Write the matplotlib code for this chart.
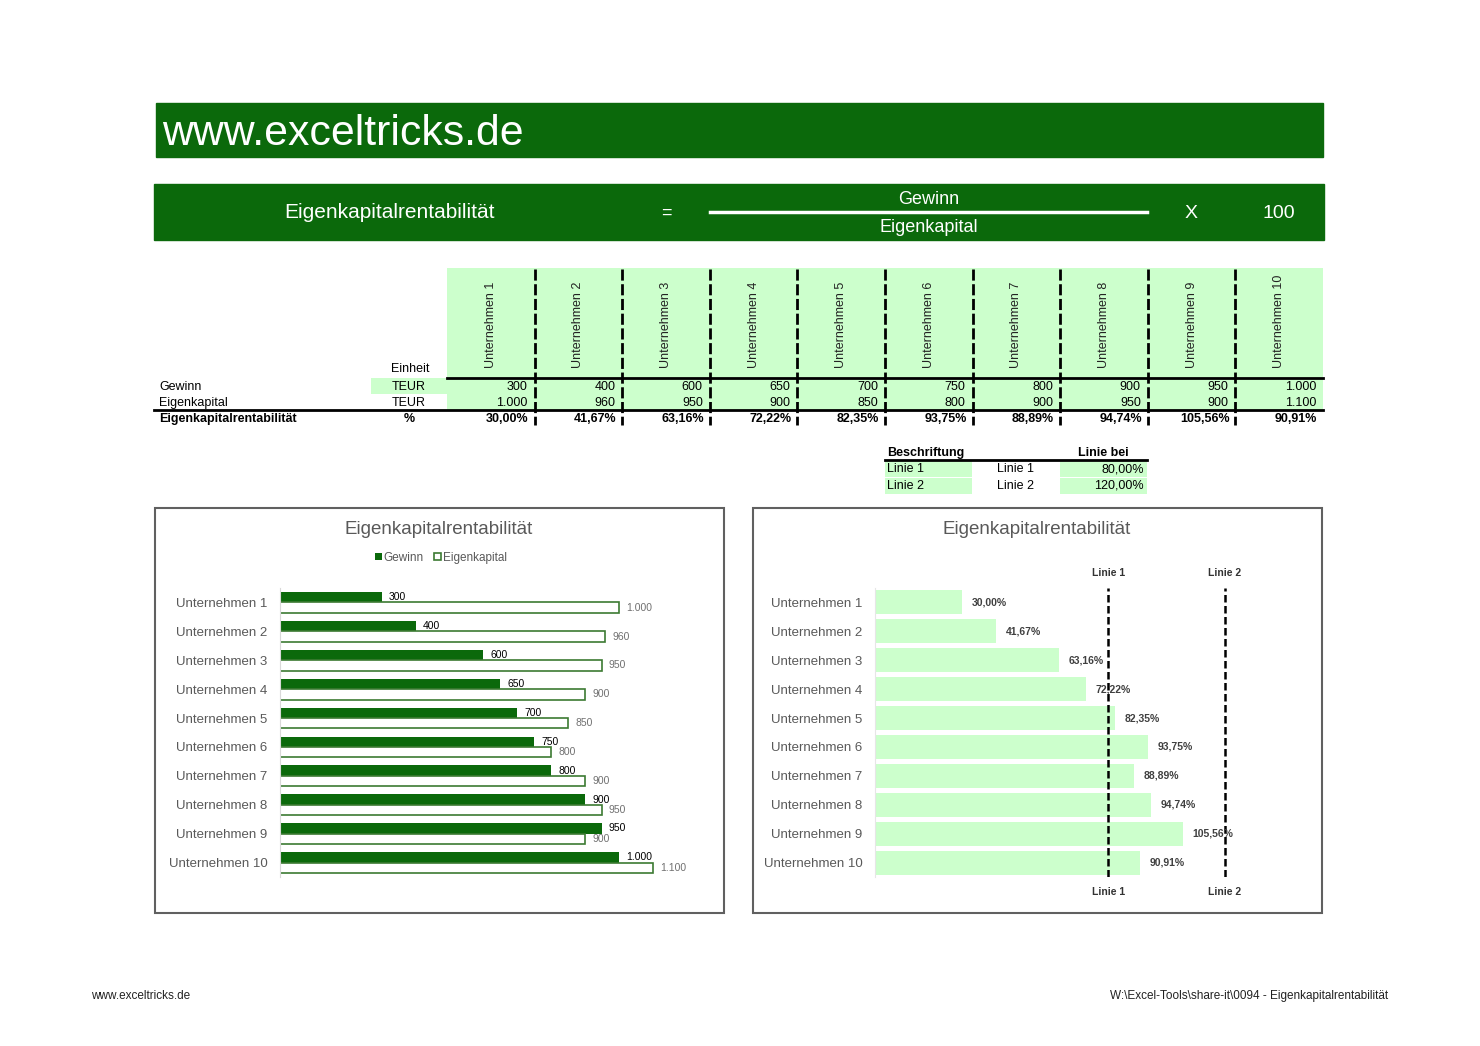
import numpy as np
import matplotlib
matplotlib.use("Agg")
import matplotlib.pyplot as plt
from matplotlib.patches import Rectangle
from matplotlib.transforms import blended_transform_factory

plt.rcParams['font.family'] = ['Liberation Sans', 'DejaVu Sans']

# --- data ---
companies = [f"Unternehmen {i}" for i in range(1, 11)]
gewinn = [300, 400, 600, 650, 700, 750, 800, 900, 950, 1000]
eigenkapital = [1000, 960, 950, 900, 850, 800, 900, 950, 900, 1100]
line_labels = ["Linie 1", "Linie 2"]
line_values = [80.0, 120.0]

rentabilitaet = [g / e * 100 for g, e in zip(gewinn, eigenkapital)]

DARK = '#0B690B'
LIGHT = '#CCFFCC'
GRAY = '#595959'
W, H = 1480, 1046


def de_int(v):
    return f"{v:,}".replace(",", ".")


def de_pct(v):
    return f"{v:.2f}".replace(".", ",") + "%"


def fig_rect(x0, y0, x1, y1):
    return [x0 / W, 1 - y1 / H, (x1 - x0) / W, (y1 - y0) / H]


fig = plt.figure(figsize=(W / 100, H / 100), dpi=100)
sheet = fig.add_axes([0, 0, 1, 1])
sheet.set_xlim(0, W)
sheet.set_ylim(H, 0)
sheet.axis('off')

# banners
sheet.add_patch(Rectangle((156, 103), 1167, 54, color=DARK))
sheet.text(162, 129.5, "www.exceltricks.de", color='white', fontsize=30.8, va='center_baseline', ha='left')

sheet.add_patch(Rectangle((154, 184), 1170, 56, color=DARK))
sheet.text(390, 213, "Eigenkapitalrentabilität", color='white', fontsize=15, va='center', ha='center')
sheet.text(666, 213, "=", color='white', fontsize=13, va='center', ha='center')
sheet.plot([710, 1147], [212, 212], color='white', lw=2.5)
sheet.text(929, 200, "Gewinn", color='white', fontsize=13, va='center', ha='center')
sheet.text(929, 227, "Eigenkapital", color='white', fontsize=13, va='center', ha='center')
sheet.text(1191, 213, "X", color='white', fontsize=14, va='center', ha='center')
sheet.text(1279, 213, "100", color='white', fontsize=14, va='center', ha='center')

# table
col_left, col_w = 447, 87.6
n = len(companies)
table_right = col_left + n * col_w
sheet.add_patch(Rectangle((col_left, 268), n * col_w, 142, color=LIGHT, lw=0))
sheet.add_patch(Rectangle((371, 378), 76, 16, color=LIGHT, lw=0))
sheet.plot([col_left, table_right], [377.5, 377.5], color='black', lw=2)
sheet.plot([154, table_right], [410, 410], color='black', lw=2)

r1, r2, r3 = 387, 403, 419
for i, name in enumerate(companies):
    cx = col_left + (i + 0.5) * col_w
    rx = col_left + (i + 1) * col_w - 7
    sheet.text(cx, 368, name, rotation=90, fontsize=9, ha='center', va='bottom', color='#222222')
    sheet.text(rx, r1, de_int(gewinn[i]), fontsize=9, ha='right', va='center')
    sheet.text(rx, r2, de_int(eigenkapital[i]), fontsize=9, ha='right', va='center')
    sheet.text(rx + 1, r3, de_pct(rentabilitaet[i]), fontsize=9, ha='right', va='center', fontweight='bold')
    if i < n - 1:
        bx = col_left + (i + 1) * col_w
        sheet.plot([bx, bx], [269, 425], color='black', lw=2, linestyle=(0, (4, 1.3)))

sheet.text(410, 369, "Einheit", fontsize=9, ha='center', va='center')
sheet.text(159, r1, "Gewinn", fontsize=9, ha='left', va='center')
sheet.text(159, r2, "Eigenkapital", fontsize=9, ha='left', va='center')
sheet.text(159, r3, "Eigenkapitalrentabilität", fontsize=9, ha='left', va='center', fontweight='bold')
sheet.text(409, r1, "TEUR", fontsize=9, ha='center', va='center')
sheet.text(409, r2, "TEUR", fontsize=9, ha='center', va='center')
sheet.text(409, r3, "%", fontsize=9, ha='center', va='center', fontweight='bold')

# small line table
sheet.text(887, 453, "Beschriftung", fontsize=9, fontweight='bold', ha='left', va='center')
sheet.text(1078, 453, "Linie bei", fontsize=9, fontweight='bold', ha='left', va='center')
sheet.plot([885, 1147], [459.5, 459.5], color='black', lw=2)
for k, (lab, val) in enumerate(zip(line_labels, line_values)):
    y = 469.5 + k * 16.5
    sheet.add_patch(Rectangle((885, y - 8.5), 87, 16, color=LIGHT, lw=0))
    sheet.add_patch(Rectangle((1060, y - 8.5), 87, 16, color=LIGHT, lw=0))
    sheet.text(887, y, lab, fontsize=9, ha='left', va='center')
    sheet.text(997, y, lab, fontsize=9, ha='left', va='center')
    sheet.text(1144, y, de_pct(val), fontsize=9, ha='right', va='center')

# chart boxes
for x0 in (155, 753):
    sheet.add_patch(Rectangle((x0, 508), 569, 405, facecolor='white', edgecolor='#606060', lw=1.5))
sheet.text(439, 529, "Eigenkapitalrentabilität", fontsize=13.5, color=GRAY, ha='center', va='center')
sheet.text(1037, 529, "Eigenkapitalrentabilität", fontsize=13.5, color=GRAY, ha='center', va='center')

# footer
sheet.text(91, 996, "www.exceltricks.de", fontsize=8.5, ha='left', va='center', color='#222222')
sheet.text(1388, 996, "W:\\Excel-Tools\\share-it\\0094 - Eigenkapitalrentabilität", fontsize=8.5,
           ha='right', va='center', color='#222222')

idx = np.arange(n)

# left chart
ax1 = fig.add_axes(fig_rect(280, 588, 280 + 1200 * 0.339, 877))
ax1.patch.set_alpha(0)
g_bars = ax1.barh(idx - 0.18, gewinn, height=0.36, color=DARK, lw=0)
e_bars = ax1.barh(idx + 0.18, eigenkapital, height=0.36, facecolor='white', edgecolor='#3C7A32', lw=1.2)
ax1.bar_label(g_bars, labels=[de_int(v) for v in gewinn], padding=5, fontsize=7.5, color='black')
ax1.bar_label(e_bars, labels=[de_int(v) for v in eigenkapital], padding=5, fontsize=7.5, color='#707070')
ax1.set_xlim(0, 1200)
ax1.set_ylim(n - 0.5, -0.5)
ax1.set_yticks(idx, companies)
ax1.tick_params(axis='y', length=0, pad=9, labelsize=9.5, labelcolor=GRAY)
ax1.set_xticks([])
for s in ('top', 'right', 'bottom'):
    ax1.spines[s].set_visible(False)
ax1.spines['left'].set_color('#D9D9D9')
ax1.legend(handles=[g_bars, e_bars], labels=['Gewinn', 'Eigenkapital'], loc='center',
           bbox_to_anchor=(441 / W, 1 - 558 / H), bbox_transform=fig.transFigure,
           ncol=2, frameon=False, fontsize=8.5, handlelength=0.55, handleheight=0.55,
           handletextpad=0.15, columnspacing=0.9, labelcolor=GRAY)

# right chart
ax2 = fig.add_axes(fig_rect(875, 588, 875 + 140 * 2.915, 877))
ax2.patch.set_alpha(0)
r_bars = ax2.barh(idx, rentabilitaet, height=0.83, color=LIGHT, lw=0)
ax2.bar_label(r_bars, labels=[de_pct(v) for v in rentabilitaet], padding=7, fontsize=7.5,
              color='#404040', fontweight='bold')
ax2.set_xlim(0, 140)
ax2.set_ylim(n - 0.5, -0.5)
ax2.set_yticks(idx, companies)
ax2.tick_params(axis='y', length=0, pad=9, labelsize=9.5, labelcolor=GRAY)
ax2.set_xticks([])
for s in ('top', 'right', 'bottom'):
    ax2.spines[s].set_visible(False)
ax2.spines['left'].set_color('#E6E6E6')
trans = blended_transform_factory(ax2.transData, ax2.transAxes)
for lab, val in zip(line_labels, line_values):
    ax2.axvline(val, color='black', lw=1.8, linestyle=(0, (3, 1.4)))
    ax2.text(val, 1.035, lab, transform=trans, fontsize=7.5, fontweight='bold', color='#333333',
             ha='center', va='bottom')
    ax2.text(val, -0.035, lab, transform=trans, fontsize=7.5, fontweight='bold', color='#333333',
             ha='center', va='top')

fig.savefig("out.png", dpi=100)
